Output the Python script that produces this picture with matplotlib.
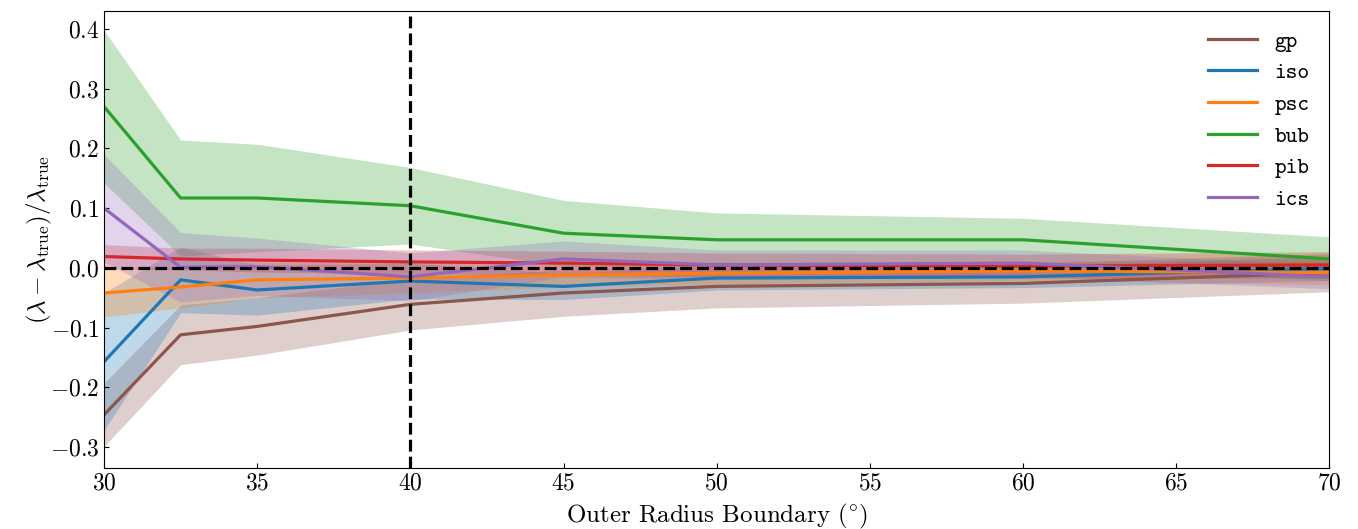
import numpy as np
import matplotlib
matplotlib.use("Agg")
import matplotlib.pyplot as plt

plt.rcParams["font.family"] = "serif"
plt.rcParams["font.serif"] = ["cmr10"]
plt.rcParams["font.monospace"] = ["cmtt10"]
plt.rcParams["mathtext.fontset"] = "cm"
plt.rcParams["axes.formatter.use_mathtext"] = True

radius = [30, 32.5, 35, 40, 45, 50, 60, 70]
models = ["gp", "iso", "psc", "bub", "pib", "ics"]
colors = ["tab:brown", "tab:blue", "tab:orange", "tab:green", "tab:red", "tab:purple"]

# mean fractional error and 1-sigma spread per model
mean_err = {
    "gp":  [-0.246, -0.112, -0.098, -0.061, -0.042, -0.031, -0.026, -0.008],
    "iso": [-0.157, -0.020, -0.037, -0.022, -0.031, -0.017, -0.015, -0.001],
    "psc": [-0.042, -0.032, -0.020, -0.017, -0.012, -0.009, -0.005, -0.008],
    "bub": [0.270, 0.117, 0.117, 0.104, 0.058, 0.047, 0.047, 0.015],
    "pib": [0.019, 0.015, 0.013, 0.010, 0.008, 0.005, 0.003, 0.005],
    "ics": [0.100, 0.001, 0.002, -0.015, 0.015, 0.005, 0.008, -0.015],
}
spread = {
    "gp":  [0.053, 0.050, 0.048, 0.043, 0.039, 0.036, 0.033, 0.032],
    "iso": [0.115, 0.055, 0.042, 0.030, 0.022, 0.020, 0.018, 0.020],
    "psc": [0.040, 0.035, 0.030, 0.025, 0.020, 0.018, 0.016, 0.020],
    "bub": [0.128, 0.097, 0.090, 0.064, 0.055, 0.045, 0.036, 0.037],
    "pib": [0.020, 0.018, 0.020, 0.020, 0.020, 0.020, 0.020, 0.022],
    "ics": [0.090, 0.058, 0.048, 0.040, 0.030, 0.025, 0.022, 0.020],
}

fig = plt.figure(figsize=(13.58, 5.29), dpi=100)
ax = fig.add_axes([0.0766, 0.1153, 0.9024, 0.8639])

for name, c in zip(models, colors):
    m = np.array(mean_err[name])
    s = np.array(spread[name])
    ax.fill_between(radius, m - s, m + s, color=c, alpha=0.28, lw=0)
    ax.plot(radius, m, color=c, lw=2.3, label=name)

ax.axhline(0, color="k", ls="--", lw=2.3, zorder=5)
ax.axvline(40, color="k", ls="--", lw=2.3, zorder=5)

ax.set_xlim(30, 70)
ax.set_ylim(-0.335, 0.43)
ax.tick_params(direction="in", labelsize=17)
ax.set_xlabel(r"Outer Radius Boundary ($^{\circ}$)", fontsize=18, labelpad=5)
ax.set_ylabel(r"$(\lambda - \lambda_{\rm true})/\lambda_{\rm true}$", fontsize=18, labelpad=-3)

ax.legend(frameon=False, prop={"family": "monospace", "size": 16},
          handlelength=2.2, labelspacing=0.5)

fig.savefig("out.png", dpi=100)
